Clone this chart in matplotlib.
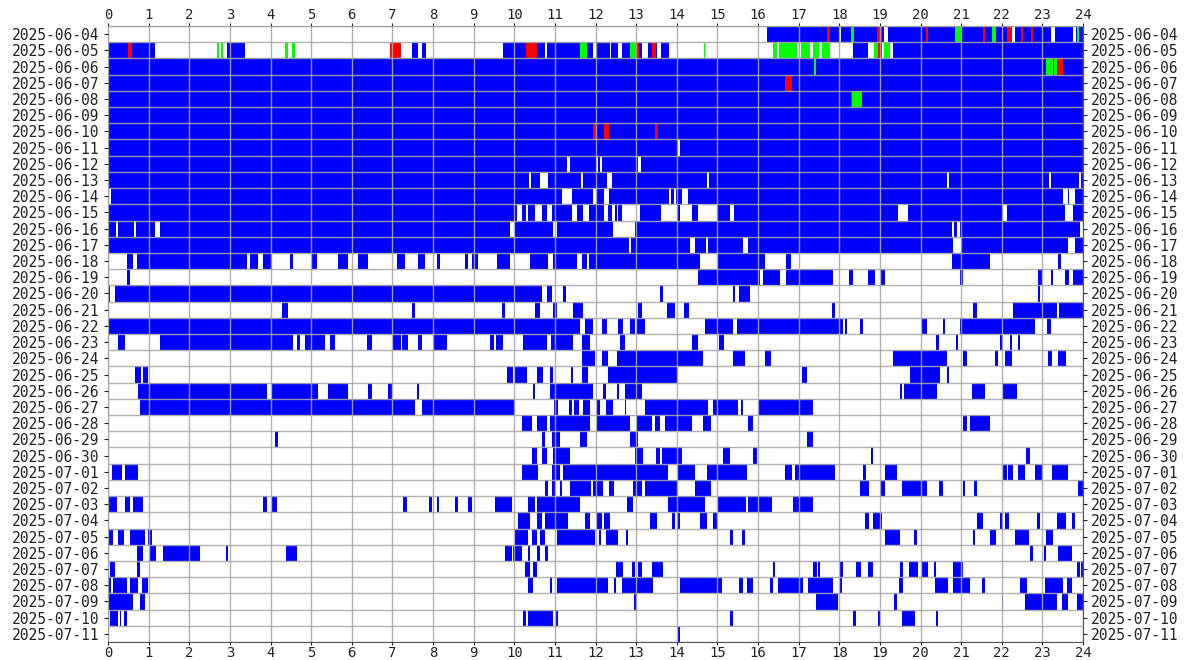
import matplotlib
matplotlib.use("Agg")
import matplotlib.pyplot as plt
from matplotlib.ticker import MultipleLocator

# 每行日期
dates = ['2025-06-%02d' % d for d in range(4, 31)] + ['2025-07-%02d' % d for d in range(1, 12)]

# 蓝色时段 (小时起止)，每行一个列表
blue = [
    [(16.22, 18.0), (18.05, 19.1), (19.2, 22.25), (22.32, 23.2), (23.32, 23.75), (23.82, 24)],
    [(0, 1.15), (2.93, 3.37), (7.48, 7.63), (7.73, 7.83), (9.72, 10.75), (10.8, 11.95), (12.0, 12.35),
     (12.38, 12.55), (12.65, 13.15), (13.3, 13.52), (13.62, 13.8), (18.35, 18.7), (19.33, 24)],
    [(0, 24)],
    [(0, 24)],
    [(0, 24)],
    [(0, 24)],
    [(0, 24)],
    [(0, 14.03), (14.08, 24)],
    [(0, 11.31), (11.36, 12.01), (12.05, 12.11), (12.15, 13.05), (13.12, 24)],
    [(0, 10.36), (10.4, 10.63), (10.83, 11.65), (11.69, 12.28), (12.4, 14.75), (14.79, 20.66),
     (20.7, 23.16), (23.2, 23.91), (23.95, 24)],
    [(0.08, 11.18), (11.42, 11.95), (12.03, 12.2), (12.33, 13.8), (13.85, 13.93), (13.98, 14.13),
     (14.28, 23.5), (23.62, 23.65), (23.8, 24)],
    [(0, 10.07), (10.2, 10.28), (10.35, 10.5), (10.68, 10.8), (10.93, 11.42), (11.55, 11.7),
     (11.85, 12.2), (12.3, 12.4), (12.48, 12.53), (12.56, 12.65), (13.1, 13.6), (14.0, 14.08),
     (14.37, 14.52), (15.0, 15.3), (15.4, 19.45), (19.7, 22.03), (22.12, 23.55), (23.75, 24)],
    [(0, 0.2), (0.25, 0.64), (0.68, 1.15), (1.28, 9.9), (10.02, 10.95), (11.05, 12.43),
     (12.97, 20.78), (20.82, 20.9), (20.97, 23.93)],
    [(0, 12.83), (12.87, 14.33), (14.45, 14.73), (14.77, 15.63), (15.75, 20.8), (21.0, 23.63), (23.8, 24)],
    [(0.47, 0.62), (0.71, 3.42), (3.5, 3.7), (3.82, 4.03), (4.48, 4.55), (5.02, 5.14), (5.66, 5.9),
     (6.15, 6.4), (7.11, 7.31), (7.63, 7.8), (8.1, 8.17), (8.79, 8.86), (8.96, 9.11), (9.58, 9.9),
     (10.39, 10.83), (10.95, 11.54), (11.67, 11.8), (11.83, 14.57), (15.02, 16.17), (16.7, 16.8),
     (20.78, 21.7), (23.38, 23.45)],
    [(0.47, 0.55), (14.52, 16.05), (16.13, 16.54), (16.7, 17.85), (18.24, 18.34), (18.7, 18.88),
     (19.03, 19.13), (20.97, 21.05), (22.9, 23.0), (23.2, 23.27), (23.55, 23.65), (23.75, 24)],
    [(0.0, 0.05), (0.17, 10.68), (10.8, 10.93), (11.2, 11.28), (13.59, 13.66), (15.38, 15.44),
     (15.53, 15.8), (22.9, 22.95)],
    [(4.28, 4.43), (7.48, 7.56), (9.7, 9.77), (10.5, 10.63), (10.95, 11.05), (11.45, 11.7),
     (13.05, 13.15), (13.76, 13.96), (14.18, 14.3), (17.82, 17.9), (21.3, 21.4), (22.28, 23.35), (23.4, 24)],
    [(0, 11.62), (11.74, 11.94), (12.16, 12.28), (12.55, 12.68), (12.85, 12.97), (13.02, 13.22),
     (14.7, 15.38), (15.48, 18.1), (18.15, 18.2), (18.5, 18.58), (20.04, 20.16), (20.55, 20.6),
     (20.97, 22.82), (23.12, 23.2)],
    [(0.25, 0.42), (1.28, 4.55), (4.65, 4.73), (4.85, 5.34), (5.46, 5.59), (6.38, 6.5), (7.02, 7.2),
     (7.24, 7.38), (7.63, 7.73), (8.0, 8.34), (9.4, 9.5), (9.55, 9.72), (10.22, 10.8), (10.9, 11.45),
     (11.67, 11.86), (12.6, 12.73), (14.37, 14.52), (15.04, 15.16), (20.38, 20.46), (20.87, 20.93),
     (21.96, 22.03), (22.2, 22.25), (22.4, 22.45)],
    [(11.67, 11.98), (12.16, 12.3), (12.53, 14.65), (15.38, 15.68), (16.17, 16.32), (19.32, 20.65),
     (21.05, 21.14), (21.84, 21.9), (22.08, 22.25), (23.14, 23.24), (23.38, 23.58)],
    [(0.66, 0.8), (0.85, 0.98), (9.82, 9.97), (10.02, 10.31), (10.56, 10.71), (10.88, 10.95),
     (11.4, 11.45), (11.67, 11.82), (12.31, 14.0), (17.08, 17.2), (19.74, 20.48), (20.65, 20.7)],
    [(0.74, 3.91), (4.03, 5.17), (5.42, 5.9), (6.4, 6.5), (6.9, 6.99), (7.6, 7.65), (10.46, 10.51),
     (10.88, 11.94), (12.19, 12.26), (12.53, 12.58), (12.73, 13.15), (19.5, 19.55), (19.6, 20.4),
     (21.27, 21.59), (22.03, 22.38)],
    [(0.79, 7.56), (7.73, 10.02), (10.98, 11.07), (11.35, 11.42), (11.48, 11.6), (11.7, 11.86),
     (12.03, 12.1), (12.26, 12.43), (12.72, 12.75), (13.22, 14.77), (14.9, 15.5), (15.58, 15.62),
     (16.0, 17.35)],
    [(10.2, 10.44), (10.56, 10.8), (10.88, 11.86), (12.03, 12.85), (13.02, 13.39), (13.47, 13.59),
     (13.71, 14.37), (14.65, 14.84), (15.75, 15.88), (21.05, 21.14), (21.22, 21.71)],
    [(4.1, 4.18), (10.68, 10.76), (10.93, 11.13), (11.62, 11.8), (12.85, 13.05), (17.2, 17.35)],
    [(10.44, 10.56), (10.68, 10.8), (10.95, 11.37), (12.97, 13.17), (13.49, 13.59), (13.64, 14.13),
     (15.14, 15.31), (15.88, 15.98), (18.78, 18.83), (22.6, 22.7)],
    [(0.1, 0.34), (0.42, 0.74), (10.19, 10.58), (10.93, 11.13), (11.2, 13.78), (14.03, 14.45),
     (14.74, 15.73), (16.66, 16.84), (16.91, 17.9), (18.58, 18.66), (19.13, 19.42), (22.03, 22.12),
     (22.15, 22.28), (22.4, 22.57), (22.82, 23.02), (23.24, 23.63)],
    [(10.76, 10.83), (10.93, 11.0), (11.12, 11.17), (11.37, 11.9), (11.94, 12.19), (12.33, 12.46),
     (12.92, 13.15), (13.22, 14.0), (14.45, 14.84), (18.51, 18.73), (19.0, 19.13), (19.54, 20.16),
     (20.46, 20.55), (21.05, 21.1), (21.32, 21.4), (23.88, 24)],
    [(0, 0.22), (0.42, 0.54), (0.62, 0.86), (3.82, 3.91), (4.03, 4.16), (7.26, 7.36), (7.9, 7.98),
     (8.1, 8.14), (8.54, 8.62), (8.86, 8.96), (9.53, 9.94), (10.34, 10.51), (10.56, 11.62),
     (12.78, 12.92), (13.78, 14.7), (15.02, 15.7), (15.75, 16.34), (16.86, 17.35)],
    [(10.09, 10.39), (10.56, 10.68), (10.76, 11.32), (11.74, 11.86), (12.03, 12.15), (12.2, 12.36),
     (13.34, 13.51), (13.88, 13.95), (14.0, 14.08), (14.57, 14.74), (14.89, 14.99), (18.63, 18.73),
     (18.83, 19.05), (21.4, 21.55), (21.96, 22.03), (22.08, 22.18), (22.87, 22.95), (23.36, 23.58),
     (23.73, 23.8)],
    [(0, 0.12), (0.25, 0.39), (0.54, 0.91), (0.98, 1.08), (10.02, 10.34), (10.44, 10.56), (10.63, 10.76),
     (11.05, 11.98), (12.08, 12.13), (12.26, 12.55), (12.75, 12.8), (15.31, 15.38), (15.6, 15.68),
     (19.13, 19.5), (19.84, 19.91), (21.3, 21.35), (21.71, 21.86), (22.33, 22.67), (23.1, 23.27)],
    [(0.71, 0.86), (1.03, 1.18), (1.35, 2.26), (2.9, 2.95), (4.38, 4.65), (9.77, 9.95), (9.98, 10.19),
     (10.35, 10.38), (10.56, 10.63), (10.76, 10.83), (22.7, 22.77), (23.04, 23.09), (23.38, 23.73)],
    [(0.05, 0.17), (0.71, 0.79), (10.27, 10.39), (10.46, 10.56), (12.5, 12.68), (12.9, 12.97),
     (13.05, 13.15), (13.39, 13.66), (16.37, 16.42), (17.35, 17.45), (17.48, 17.52), (18.02, 18.1),
     (18.41, 18.53), (18.7, 18.83), (19.5, 19.57), (19.72, 19.94), (20.04, 20.18), (20.33, 20.38),
     (20.8, 21.05), (23.85, 23.92), (23.95, 24)],
    [(0, 0.08), (0.12, 0.47), (0.54, 0.74), (0.83, 0.98), (10.34, 10.46), (10.88, 10.93), (11.05, 12.31),
     (12.46, 12.51), (12.65, 13.42), (14.08, 15.11), (15.53, 15.63), (15.73, 15.88), (16.3, 16.37),
     (16.49, 17.1), (17.23, 17.85), (18.02, 18.07), (19.47, 19.57), (20.36, 20.68), (20.8, 21.22),
     (21.52, 21.59), (22.45, 22.62), (23.07, 23.5), (23.6, 23.73)],
    [(0, 0.62), (0.79, 0.91), (12.95, 13.02), (17.43, 17.97), (19.35, 19.42), (22.0, 22.03),
     (22.57, 23.36), (23.48, 23.63), (23.85, 24)],
    [(0.05, 0.25), (0.3, 0.33), (0.39, 0.47), (10.22, 10.3), (10.35, 10.95), (11.02, 11.08),
     (15.31, 15.38), (18.35, 18.41), (18.95, 19.0), (19.54, 19.86), (20.38, 20.43)],
    [(14.03, 14.07)],
]

# 红色、绿色标记 (行号 -> 时段)
red = {
    0: [(17.7, 17.78), (18.93, 19.05), (20.13, 20.18), (21.53, 21.58), (22.12, 22.25),
        (22.48, 22.53), (22.73, 22.78)],
    1: [(0.5, 0.6), (6.95, 7.2), (10.3, 10.55), (13.0, 13.07), (13.4, 13.5), (18.95, 19.05)],
    2: [(23.35, 23.5)],
    3: [(16.67, 16.83)],
    4: [(18.28, 18.32)],
    6: [(11.95, 12.0), (12.2, 12.33), (13.47, 13.53)],
}
green = {
    0: [(18.3, 18.36), (20.85, 21.0), (21.75, 21.87), (23.85, 23.9)],
    1: [(2.68, 2.73), (2.77, 2.82), (4.35, 4.42), (4.52, 4.6), (11.62, 11.8), (12.85, 13.0),
        (14.67, 14.7), (16.37, 16.47), (16.52, 16.95), (17.07, 17.27), (17.35, 17.5),
        (17.57, 17.77), (18.85, 18.95), (19.1, 19.25)],
    2: [(17.38, 17.43), (23.1, 23.27), (23.29, 23.35)],
    4: [(18.32, 18.55)],
}


def draw_row(ax, i, segs, color):
    ax.broken_barh([(s, e - s) for s, e in segs], (i - 0.5, 1.0),
                   facecolors=color, linewidth=0, zorder=2)


if __name__ == '__main__':
    plt.rcParams['font.family'] = 'DejaVu Sans Mono'
    fig = plt.figure(figsize=(11.88, 6.6), dpi=100)
    ax = fig.add_axes([108 / 1188, 1 - 642 / 660, 975 / 1188, 616 / 660])

    for i, segs in enumerate(blue):
        draw_row(ax, i, segs, '#0000ff')
    for i, segs in red.items():
        draw_row(ax, i, segs, '#ff0000')
    for i, segs in green.items():
        draw_row(ax, i, segs, '#00ff00')

    ax.set_xlim(0, 24)
    ax.set_ylim(len(dates) - 0.5, -0.5)
    ax.set_xticks(range(25))
    ax.set_yticks(range(len(dates)))
    ax.set_yticklabels(dates)
    ax.yaxis.set_minor_locator(MultipleLocator(1, offset=0.5))

    # 网格画在色块上方
    ax.set_axisbelow(False)
    ax.grid(axis='x', which='major', color='#a8a8a8', alpha=0.9, linewidth=1, zorder=3)
    ax.grid(axis='y', which='minor', color='#a8a8a8', alpha=0.9, linewidth=1, zorder=3)
    ax.grid(axis='y', which='major', visible=False)

    ax.tick_params(axis='x', which='major', top=True, labeltop=True, bottom=True, labelbottom=True,
                   length=2, pad=1, labelsize=10, colors='#222222')
    ax.tick_params(axis='y', which='major', left=True, right=True, labelleft=True, labelright=True,
                   length=3, pad=3, labelsize=10.5, colors='#222222')
    ax.tick_params(axis='y', which='minor', length=0)
    for sp in ax.spines.values():
        sp.set_color('#555555')

    fig.savefig('out.png', dpi=100)
